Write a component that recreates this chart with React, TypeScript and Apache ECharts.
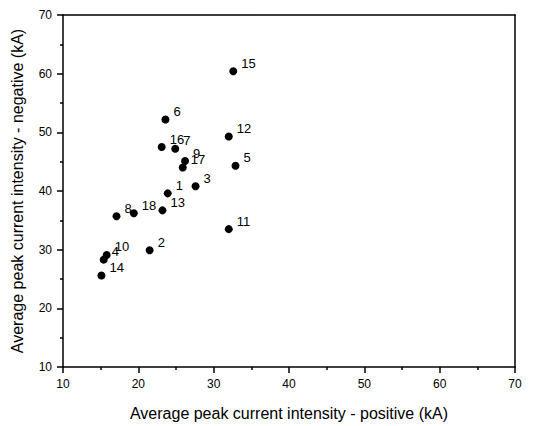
import React, { useEffect, useRef } from "react";
import * as echarts from "echarts";

const pointNames = ["1","2","3","4","5","6","7","8","9","10","11","12","13","14","15","16","17","18"];
const positiveKA = [23.9, 21.5, 27.6, 15.4, 32.9, 23.6, 24.9, 17.1, 26.2, 15.8, 32.0, 32.0, 23.2, 15.1, 32.6, 23.1, 25.9, 19.4];
const negativeKA = [39.6, 29.9, 40.8, 28.3, 44.3, 52.2, 47.2, 35.7, 45.1, 29.1, 33.5, 49.3, 36.7, 25.6, 60.4, 47.5, 44.0, 36.2];

const xTitle = "Average peak current intensity - positive (kA)";
const yTitle = "Average peak current intensity - negative (kA)";
const axisMin = 10;
const axisMax = 70;
const axisStep = 10;

const FONT = "'Liberation Sans', Arial, sans-serif";

export default function App() {
  const ref = useRef<HTMLDivElement>(null);
  useEffect(() => {
    if (!ref.current) return;
    const chart = echarts.init(ref.current, undefined, { renderer: "svg" });
    const lineStyle = { color: "#000", width: 1.5 };
    const mainAxis = (name: string, gap: number) => ({
      type: "value" as const,
      min: axisMin,
      max: axisMax,
      interval: axisStep,
      name,
      nameLocation: "middle" as const,
      nameGap: gap,
      nameTextStyle: { fontFamily: FONT, fontSize: 16, color: "#000" },
      axisLine: { show: true, onZero: false, lineStyle },
      axisTick: { show: true, inside: false, length: 6, lineStyle: { color: "#000", width: 1.5 } },
      minorTick: { show: true, splitNumber: 2, length: 3, lineStyle: { color: "#000", width: 1.5 } },
      axisLabel: { fontFamily: FONT, fontSize: 12, color: "#000", margin: 11 },
      splitLine: { show: false },
    });
    const borderAxis = (position: string) => ({
      type: "value" as const,
      min: axisMin,
      max: axisMax,
      interval: axisStep,
      position,
      axisLine: { show: true, onZero: false, lineStyle },
      axisTick: { show: false },
      axisLabel: { show: false },
      splitLine: { show: false },
    });
    chart.setOption({
      animation: false,
      backgroundColor: "#fff",
      grid: { left: 63, right: 19, top: 15, bottom: 59 },
      xAxis: [mainAxis(xTitle, 38), borderAxis("top")],
      yAxis: [mainAxis(yTitle, 38), borderAxis("right")],
      series: [
        {
          type: "scatter",
          symbol: "circle",
          symbolSize: 8,
          itemStyle: { color: "#000", opacity: 1 },
          label: {
            show: true,
            position: "right",
            distance: 4,
            offset: [0, -8],
            formatter: "{b}",
            fontFamily: FONT,
            fontSize: 13,
            color: "#000",
            textBorderWidth: 0,
          },
          data: pointNames.map((n, i) => ({ name: n, value: [positiveKA[i], negativeKA[i]] })),
        },
      ],
    });
    return () => chart.dispose();
  }, []);
  return (
    <div
      ref={ref}
      style={{ position: "absolute", left: 0, top: 0, width: 534, height: 426, background: "#fff" }}
    />
  );
}
